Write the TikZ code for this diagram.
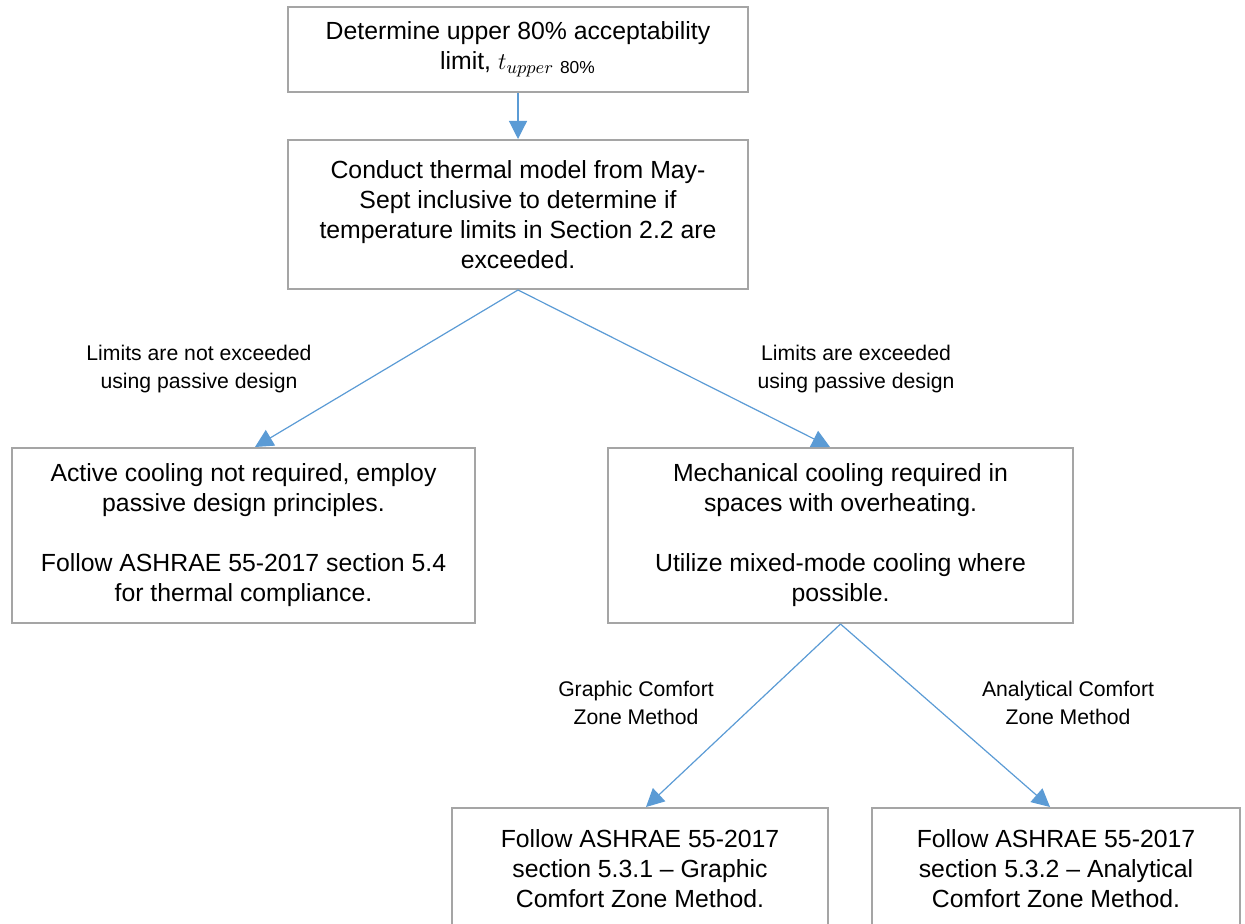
\documentclass[tikz,border=0pt]{standalone}
\usepackage{fontspec}
\setmainfont{Liberation Sans}
\usepackage{amsmath}
\usetikzlibrary{arrows.meta}
\definecolor{boxgray}{RGB}{165,165,165}
\definecolor{flowblue}{RGB}{91,155,213}

\begin{document}
\begin{tikzpicture}[x=0.5pt,y=-0.5pt,
  box/.style={draw=boxgray,line width=1pt,align=center,inner sep=0pt,
    font=\fontsize{12.4}{15}\selectfont},
  branch/.style={align=center,font=\fontsize{10.6}{14}\selectfont},
  flow/.style={draw=flowblue,line width=0.6pt,-{Triangle[length=9pt,width=9pt]}}]

\useasboundingbox (0,0) rectangle (1245,924);

\node[box,minimum width=230pt,minimum height=42.5pt] (limit) at (518,49.5)
  {Determine upper 80\% acceptability\\limit, $t_{upper\ \mathrm{80\%}}$};
\node[box,minimum width=230pt,minimum height=74.5pt] (model) at (518,214.5)
  {Conduct thermal model from May-\\Sept inclusive to determine if\\temperature limits in Section 2.2 are\\exceeded.};

\node[box,minimum width=231.5pt,minimum height=87.5pt] (passive) at (243.5,535.5)
  {Active cooling not required, employ\\passive design principles.\\[15pt]Follow ASHRAE 55-2017 section 5.4\\for thermal compliance.};
\node[box,minimum width=232.5pt,minimum height=87.5pt] (mech) at (840.5,535.5)
  {Mechanical cooling required in\\spaces with overheating.\\[15pt]Utilize mixed-mode cooling where\\possible.};

\node[box,minimum width=188pt,minimum height=61pt] (graphic) at (640,869)
  {Follow ASHRAE 55-2017\\section 5.3.1 -- Graphic\\Comfort Zone Method.};
\node[box,minimum width=184pt,minimum height=61pt] (analytic) at (1056,869)
  {Follow ASHRAE 55-2017\\section 5.3.2 -- Analytical\\Comfort Zone Method.};

\node[branch] (notexc) at (199,369) {Limits are not exceeded\\using passive design};
\node[branch] (exc) at (856,369) {Limits are exceeded\\using passive design};
\node[branch] (gmeth) at (636,703) {Graphic Comfort\\Zone Method};
\node[branch] (ameth) at (1068,703) {Analytical Comfort\\Zone Method};

\draw[flow] (limit.south) -- (model.north);
\draw[flow] (model.south) -- ([xshift=5.75pt]passive.north);
\draw[flow] (model.south) -- ([xshift=-5.25pt]mech.north);
\draw[flow] (mech.south) -- ([xshift=3pt]graphic.north);
\draw[flow] (mech.south) -- ([xshift=-3pt]analytic.north);

\end{tikzpicture}
\end{document}
